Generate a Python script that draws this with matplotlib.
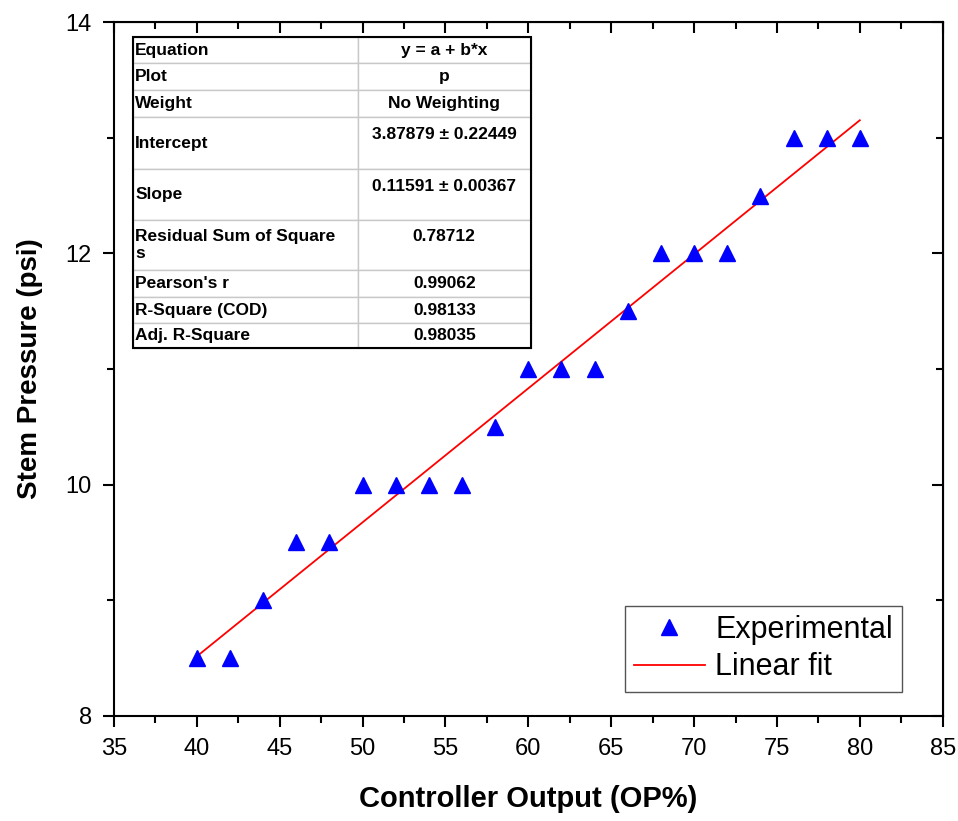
import matplotlib.pyplot as plt

plt.rcParams['font.family'] = ['Liberation Sans', 'DejaVu Sans']

op = [40, 42, 44, 46, 48, 50, 52, 54, 56, 58, 60, 62, 64, 66, 68, 70, 72, 74, 76, 78, 80]
pressure = [8.5, 8.5, 9, 9.5, 9.5, 10, 10, 10, 10, 10.5, 11, 11, 11, 11.5, 12, 12, 12, 12.5, 13, 13, 13]
intercept = 3.87879
slope = 0.11591

row_names = ["Equation", "Plot", "Weight", "Intercept", "Slope",
             "Residual Sum of Square\ns", "Pearson's r", "R-Square (COD)", "Adj. R-Square"]
row_values = ["y = a + b*x", "p", "No Weighting", "3.87879 \u00b1 0.22449\n",
              "0.11591 \u00b1 0.00367\n", "0.78712\n", "0.99062", "0.98133", "0.98035"]
row_heights = [26, 27, 27, 52, 51, 50, 27, 26, 25]

fig = plt.figure(figsize=(9.58, 8.21), dpi=100)
ax = fig.add_axes([0.119, 0.128, 0.865, 0.845])

ax.plot(op, pressure, '^', color='blue', ms=12, mec='blue', label='Experimental', zorder=3)
fit_x = [op[0], op[-1]]
fit_y = [intercept + slope * x for x in fit_x]
ax.plot(fit_x, fit_y, color='red', lw=1.3, label='Linear fit', zorder=2)

xmaj = list(range(35, 86, 5))
xmin = [37.5 + 5 * i for i in range(10)]
ymaj = [8, 10, 12, 14]
ymin = [9, 11, 13]

ax.set_xlim(35, 85)
ax.set_ylim(8, 14)
ax.set_xticks(xmaj)
ax.set_xticks(xmin, minor=True)
ax.set_yticks(ymaj)
ax.set_yticks(ymin, minor=True)
for s in ax.spines.values():
    s.set_linewidth(1.5)
ax.tick_params(which='major', direction='out', length=8, width=1.5, labelsize=17, pad=8)
ax.tick_params(which='minor', direction='out', length=5, width=1.5)

# mirrored inward ticks on top and right
axt = ax.secondary_xaxis('top')
axt.set_xticks(xmaj)
axt.set_xticks(xmin, minor=True)
axt.tick_params(which='major', direction='in', length=8, width=1.5, labeltop=False)
axt.tick_params(which='minor', direction='in', length=5, width=1.5)
axr = ax.secondary_yaxis('right')
axr.set_yticks(ymaj)
axr.set_yticks(ymin, minor=True)
axr.tick_params(which='major', direction='in', length=8, width=1.5, labelright=False)
axr.tick_params(which='minor', direction='in', length=5, width=1.5)

ax.set_xlabel('Controller Output (OP%)', fontsize=21, fontweight='bold', labelpad=18)
ax.set_ylabel('Stem Pressure (psi)', fontsize=20, fontweight='bold', labelpad=16)

leg = ax.legend(loc='lower right', bbox_to_anchor=(0.951, 0.035), borderaxespad=0,
                fontsize=22, fancybox=False, edgecolor='#555555', framealpha=1,
                handlelength=2.3, handletextpad=0.35, borderpad=0.3, labelspacing=0.25)
leg.get_frame().set_linewidth(1.0)

# fit results table
x0, x1 = 0.023, 0.503
y0, y1 = 0.530, 0.978
total = sum(row_heights)
col_split = 0.565
tbl = ax.table(cellText=[[n, v] for n, v in zip(row_names, row_values)],
               colWidths=[col_split, 1 - col_split],
               bbox=[x0, y0, x1 - x0, y1 - y0], zorder=5)
tbl.auto_set_font_size(False)
for (r, c), cell in tbl.get_celld().items():
    cell.set_height(row_heights[r] / total * (y1 - y0))
    cell.set_edgecolor('#c8c8c8')
    cell.set_linewidth(1.0)
    txt = cell.get_text()
    txt.set_fontsize(12.5)
    txt.set_fontweight('bold')
    if c == 0:
        txt.set_ha('left')
        cell.PAD = 0.01
    else:
        txt.set_ha('center')
ax.add_patch(plt.Rectangle((x0, y0), x1 - x0, y1 - y0, transform=ax.transAxes,
                           fill=False, edgecolor='black', lw=1.5, zorder=6))

fig.savefig('out.png', dpi=100)
